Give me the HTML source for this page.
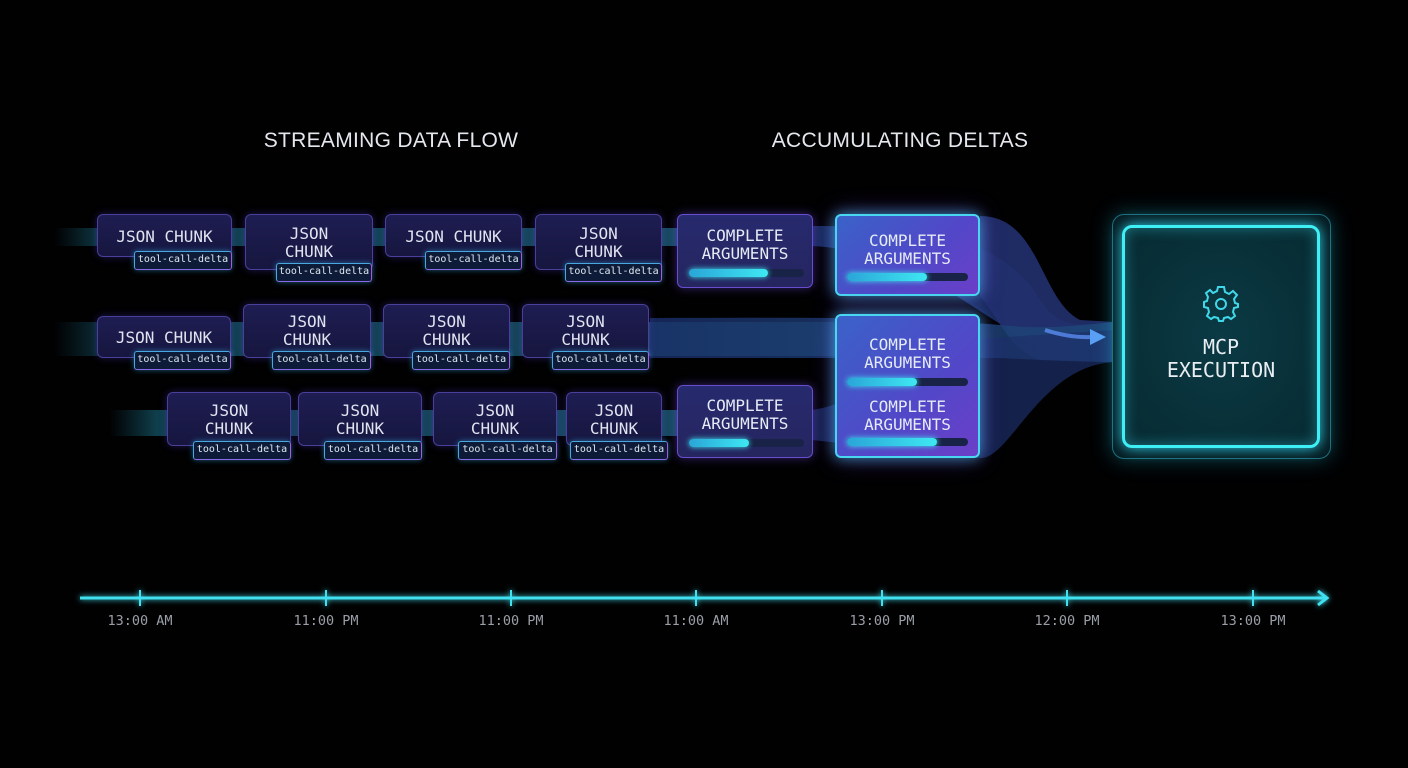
<!DOCTYPE html>
<html><head><meta charset="utf-8"><style>
html,body{margin:0;padding:0;background:#000;}
#c{position:relative;width:1408px;height:768px;overflow:hidden;background:#010102;font-family:"DejaVu Sans Mono","Liberation Mono",monospace;}
.t{position:absolute;color:#e4e8ee;font-family:"Liberation Sans",sans-serif;font-size:21px;letter-spacing:0.3px;transform:translateX(-50%);white-space:nowrap;}
.b{position:absolute;box-sizing:border-box;border:1px solid #4a3f9a;border-radius:6px;background:linear-gradient(180deg,#1e1d52,#16163f);box-shadow:0 0 8px rgba(90,70,220,.35);color:#dfe4f0;font-size:16px;line-height:18px;text-align:center;}
.b .l{position:absolute;left:0;right:0;}
.g{position:absolute;box-sizing:border-box;border:1.5px solid #4aa8e0;border-right-color:#a55be6;border-bottom-color:#8a6ae6;border-radius:3px;background:#0d1a38;color:#dfe8f0;font-size:10px;line-height:16px;text-align:center;white-space:nowrap;overflow:hidden;box-shadow:0 0 6px rgba(60,180,240,.5);}
.ca{position:absolute;box-sizing:border-box;border:1px solid #6a4ccf;border-radius:6px;background:linear-gradient(180deg,#262a6e,#25255f);box-shadow:0 0 10px rgba(120,80,240,.45);color:#e6ebf5;font-size:16px;line-height:18px;text-align:center;}
.ca2{border:2px solid #49d6f0;background:linear-gradient(135deg,#3a62c8,#5247c8 60%,#6b3fc8);box-shadow:0 0 14px rgba(70,210,255,.6),0 0 24px rgba(140,80,255,.4);}
.bar{position:absolute;height:8px;border-radius:4px;background:#182347;}
.bar i{position:absolute;left:0;top:0;bottom:0;border-radius:4px;background:linear-gradient(90deg,#2aa5d8,#3ee8f2);box-shadow:0 0 6px #3ee8f2;}
.tl{position:absolute;top:613px;color:#9a9ea6;font-size:13.5px;transform:translateX(-50%);white-space:nowrap;}
</style></head><body><div id="c">
<svg width="1408" height="768" style="position:absolute;left:0;top:0">
<defs>
<linearGradient id="band" x1="0" x2="1"><stop offset="0" stop-color="#0f3a48" stop-opacity="0"/><stop offset=".08" stop-color="#0f3f4c"/><stop offset="1" stop-color="#174a60"/></linearGradient>
<linearGradient id="band2" x1="0" x2="1"><stop offset="0" stop-color="#1a2f6a"/><stop offset="1" stop-color="#1e4a7a"/></linearGradient>
<filter id="gl" x="-20%" y="-50%" width="140%" height="200%"><feGaussianBlur stdDeviation="3" result="b"/><feMerge><feMergeNode in="b"/><feMergeNode in="SourceGraphic"/></feMerge></filter>
</defs>
<rect x="55" y="228" width="630" height="18" fill="url(#band)"/>
<rect x="55" y="322" width="790" height="34" fill="url(#band)"/>
<rect x="110" y="410" width="580" height="26" fill="url(#band)"/>
<path d="M812 226 C900 226 1000 230 1040 300 C1060 330 1080 325 1115 322 L1115 362 C1060 362 1040 350 1010 330 C960 300 900 250 812 246Z" fill="#1d3570" opacity=".8"/>
<path d="M980 216 C1040 216 1040 300 1080 320 L1115 322 L1115 362 L1040 360 C1010 350 1000 320 980 296Z" fill="#22306e" opacity=".9"/>
<path d="M650 318 C780 318 900 316 1000 325 C1050 330 1080 325 1115 322 L1115 362 C1080 362 1040 360 1000 358 C900 358 780 358 650 358Z" fill="url(#band2)" opacity=".8"/>
<path d="M812 410 C880 400 900 340 960 340 L1115 330 L1115 362 C1040 365 1010 460 980 458 L812 440Z" fill="#1d2f6a" opacity=".7"/>
<path d="M1045 330 Q1070 338 1092 337" stroke="#5a8cf0" stroke-width="4" fill="none" opacity=".8"/>
<path d="M1090 329 L1106 337 L1090 345Z" fill="#5aa0f5"/>
<g filter="url(#gl)" stroke="#3fe0f0" stroke-width="3" fill="none">
<line x1="80" y1="598" x2="1326" y2="598"/>
<path d="M1318 591 L1327 598 L1318 605"/>
<g stroke-width="2"><line x1="140" y1="590" x2="140" y2="606"/><line x1="326" y1="590" x2="326" y2="606"/><line x1="511" y1="590" x2="511" y2="606"/><line x1="696" y1="590" x2="696" y2="606"/><line x1="882" y1="590" x2="882" y2="606"/><line x1="1067" y1="590" x2="1067" y2="606"/><line x1="1253" y1="590" x2="1253" y2="606"/></g>
</g>
</svg>
<div class="t" style="left:391px;top:129px">STREAMING DATA FLOW</div>
<div class="t" style="left:900px;top:129px">ACCUMULATING DELTAS</div>

<!-- row1 -->
<div class="b" style="left:97px;top:214px;width:135px;height:43px"><div class="l" style="top:13px">JSON CHUNK</div></div>
<div class="g" style="left:134px;top:251px;width:98px;height:19px">tool-call-delta</div>
<div class="b" style="left:245px;top:214px;width:128px;height:56px"><div class="l" style="top:10px">JSON<br>CHUNK</div></div>
<div class="g" style="left:276px;top:263px;width:96px;height:19px">tool-call-delta</div>
<div class="b" style="left:385px;top:214px;width:137px;height:43px"><div class="l" style="top:13px">JSON CHUNK</div></div>
<div class="g" style="left:425px;top:251px;width:97px;height:19px">tool-call-delta</div>
<div class="b" style="left:535px;top:214px;width:127px;height:56px"><div class="l" style="top:10px">JSON<br>CHUNK</div></div>
<div class="g" style="left:565px;top:263px;width:97px;height:19px">tool-call-delta</div>
<!-- row2 -->
<div class="b" style="left:97px;top:316px;width:134px;height:42px"><div class="l" style="top:12px">JSON CHUNK</div></div>
<div class="g" style="left:134px;top:351px;width:97px;height:19px">tool-call-delta</div>
<div class="b" style="left:243px;top:304px;width:128px;height:54px"><div class="l" style="top:8px">JSON<br>CHUNK</div></div>
<div class="g" style="left:272px;top:351px;width:99px;height:19px">tool-call-delta</div>
<div class="b" style="left:383px;top:304px;width:127px;height:54px"><div class="l" style="top:8px">JSON<br>CHUNK</div></div>
<div class="g" style="left:412px;top:351px;width:98px;height:19px">tool-call-delta</div>
<div class="b" style="left:522px;top:304px;width:127px;height:54px"><div class="l" style="top:8px">JSON<br>CHUNK</div></div>
<div class="g" style="left:552px;top:351px;width:97px;height:19px">tool-call-delta</div>
<!-- row3 -->
<div class="b" style="left:167px;top:392px;width:124px;height:54px"><div class="l" style="top:9px">JSON<br>CHUNK</div></div>
<div class="g" style="left:193px;top:441px;width:98px;height:19px">tool-call-delta</div>
<div class="b" style="left:298px;top:392px;width:124px;height:54px"><div class="l" style="top:9px">JSON<br>CHUNK</div></div>
<div class="g" style="left:324px;top:441px;width:98px;height:19px">tool-call-delta</div>
<div class="b" style="left:433px;top:392px;width:124px;height:54px"><div class="l" style="top:9px">JSON<br>CHUNK</div></div>
<div class="g" style="left:458px;top:441px;width:99px;height:19px">tool-call-delta</div>
<div class="b" style="left:566px;top:392px;width:96px;height:54px"><div class="l" style="top:9px">JSON<br>CHUNK</div></div>
<div class="g" style="left:570px;top:441px;width:98px;height:19px">tool-call-delta</div>

<!-- complete args -->
<div class="ca" style="left:677px;top:214px;width:136px;height:74px"><div style="position:absolute;left:0;right:0;top:12px">COMPLETE<br>ARGUMENTS</div><div class="bar" style="left:11px;top:54px;width:115px"><i style="width:79px"></i></div></div>
<div class="ca ca2" style="left:835px;top:214px;width:145px;height:82px"><div style="position:absolute;left:0;right:0;top:16px">COMPLETE<br>ARGUMENTS</div><div class="bar" style="left:10px;top:57px;width:121px"><i style="width:80px"></i></div></div>
<div class="ca ca2" style="left:835px;top:314px;width:145px;height:144px"><div style="position:absolute;left:0;right:0;top:20px">COMPLETE<br>ARGUMENTS</div><div class="bar" style="left:10px;top:62px;width:121px"><i style="width:70px"></i></div><div style="position:absolute;left:0;right:0;top:82px">COMPLETE<br>ARGUMENTS</div><div class="bar" style="left:10px;top:122px;width:121px"><i style="width:90px"></i></div></div>
<div class="ca" style="left:677px;top:385px;width:136px;height:73px"><div style="position:absolute;left:0;right:0;top:11px">COMPLETE<br>ARGUMENTS</div><div class="bar" style="left:11px;top:53px;width:115px"><i style="width:60px"></i></div></div>

<!-- MCP -->
<div style="position:absolute;left:1112px;top:214px;width:219px;height:245px;box-sizing:border-box;border:1.5px solid #1e6e7c;border-radius:12px;background:#061a20;box-shadow:0 0 20px rgba(40,200,230,.35)"></div>
<div style="position:absolute;left:1122px;top:225px;width:198px;height:223px;box-sizing:border-box;border:3.5px solid #3ef0f6;border-radius:10px;background:radial-gradient(ellipse at center,#0b3a44,#072a32);box-shadow:0 0 14px #2fd8f0,inset 0 0 14px rgba(60,230,245,.4)"></div>
<svg style="position:absolute;left:1201px;top:284px" width="40" height="40" viewBox="-20 -20 40 40"><g fill="none" stroke="#40d8e8" stroke-width="2"><circle r="5"/><path d="M-3 -17 L3 -17 L4 -12 L8 -10 L12 -13 L16 -9 L13 -5 L14 -1 L17 0 L17 3 L13 4 L12 8 L14 12 L10 15 L7 13 L3 14 L2 17 L-2 17 L-3 14 L-7 13 L-10 15 L-14 12 L-12 8 L-13 4 L-17 3 L-17 -2 L-14 -3 L-13 -7 L-15 -11 L-11 -14 L-8 -11 L-4 -13Z"/></g></svg>
<div style="position:absolute;left:1122px;top:336px;width:198px;text-align:center;color:#e8eef2;font-size:20px;line-height:23px">MCP<br>EXECUTION</div>

<div class="tl" style="left:140px">13:00 AM</div>
<div class="tl" style="left:326px">11:00 PM</div>
<div class="tl" style="left:511px">11:00 PM</div>
<div class="tl" style="left:696px">11:00 AM</div>
<div class="tl" style="left:882px">13:00 PM</div>
<div class="tl" style="left:1067px">12:00 PM</div>
<div class="tl" style="left:1253px">13:00 PM</div>
</div></body></html>
